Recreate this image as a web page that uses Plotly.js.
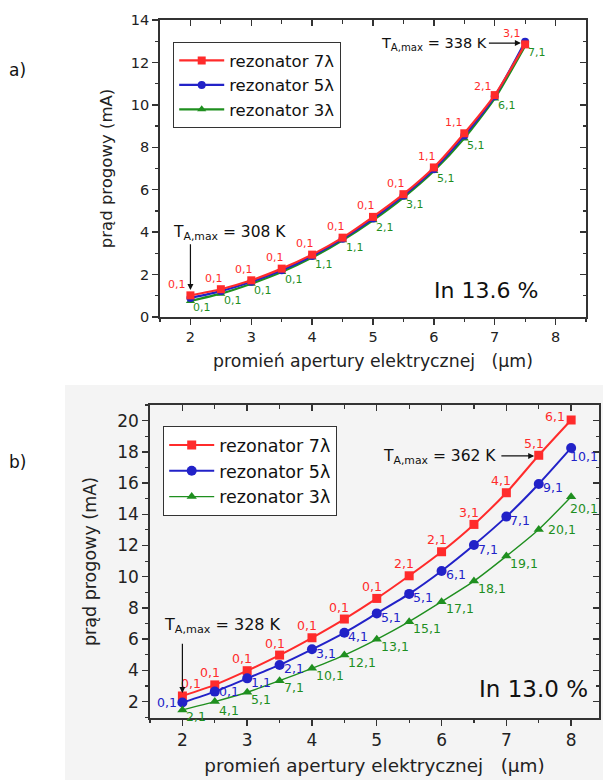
<!DOCTYPE html>
<html><head><meta charset="utf-8">
<script src="https://cdn.plot.ly/plotly-3.0.1.min.js"></script>
<style>html,body{margin:0;padding:0;background:#fff}#chart{width:603px;height:780px}</style>
</head><body><div id="chart"></div>
<script>
// ---------- data: a) In 13.6 % ----------
const radiusA = [2, 2.5, 3, 3.5, 4, 4.5, 5, 5.5, 6, 6.5, 7, 7.5];
const threshA7 = [1.02, 1.31, 1.73, 2.28, 2.94, 3.74, 4.72, 5.79, 7.05, 8.66, 10.46, 12.85];
const threshA5 = [0.90, 1.22, 1.66, 2.20, 2.88, 3.69, 4.64, 5.72, 6.97, 8.55, 10.40, 12.97];
const threshA3 = [0.76, 1.10, 1.57, 2.12, 2.80, 3.62, 4.56, 5.63, 6.88, 8.42, 10.30, 12.78];
const labelsA7 = ['0,1','0,1','0,1','0,1','0,1','0,1','0,1','0,1','1,1','1,1','2,1','3,1'];
const labelsA3 = ['0,1','0,1','0,1','0,1','1,1','1,1','2,1','3,1','5,1','5,1','6,1','7,1'];
const tempA = ['T<sub>A,max</sub> = 308 K', 'T<sub>A,max</sub> = 338 K'];
const indiumA = 'In 13.6 %';

// ---------- data: b) In 13.0 % ----------
const radiusB = [2, 2.5, 3, 3.5, 4, 4.5, 5, 5.5, 6, 6.5, 7, 7.5, 8];
const threshB7 = [2.36, 3.07, 3.98, 4.98, 6.09, 7.29, 8.61, 10.06, 11.60, 13.35, 15.38, 17.78, 20.04];
const threshB5 = [1.94, 2.64, 3.49, 4.35, 5.35, 6.41, 7.65, 8.90, 10.37, 12.03, 13.85, 15.94, 18.25];
const threshB3 = [1.47, 2.00, 2.60, 3.34, 4.13, 4.98, 5.99, 7.12, 8.40, 9.72, 11.32, 13.03, 15.12];
const labelsB7 = ['0,1','0,1','0,1','0,1','0,1','0,1','0,1','2,1','2,1','3,1','4,1','5,1','6,1'];
const labelsB5 = ['0,1','0,1','1,1','2,1','3,1','4,1','5,1','5,1','6,1','7,1','7,1','9,1','10,1'];
const labelsB3 = ['2,1','4,1','5,1','7,1','10,1','12,1','13,1','15,1','17,1','18,1','19,1','20,1','20,1'];
const tempB = ['T<sub>A,max</sub> = 328 K', 'T<sub>A,max</sub> = 362 K'];
const indiumB = 'In 13.0 %';

const seriesNames = ['rezonator 7\u03bb', 'rezonator 5\u03bb', 'rezonator 3\u03bb'];
const xTitle = 'promie\u0144 apertury elektrycznej\u00a0\u00a0\u00a0(\u03bcm)';
const yTitle = 'pr\u0105d progowy (mA)';

// ---------- styles ----------
const RED = '#ff2b2b', BLUE = '#2222c8', GREEN = '#1f8f1f';
const FONT = 'DejaVu Sans, Liberation Sans, Arial, sans-serif';
const W = 603, H = 780;
const px = v => v / W, py = v => 1 - v / H;

function tr(x, y, name, color, symbol, msize, lw, xa, ya, legend, rank) {
  return {
    x: x, y: y, name: name, type: 'scatter', mode: 'lines+markers',
    xaxis: xa, yaxis: ya, legend: legend, legendrank: rank,
    line: {color: color, width: lw, shape: 'spline', smoothing: 0.6},
    marker: {symbol: symbol, size: msize, color: color},
    hoverinfo: 'skip'
  };
}

const data = [
  tr(radiusA, threshA3, seriesNames[2], GREEN, 'triangle-up', 8, 2.2, 'x', 'y', 'legend', 3),
  tr(radiusA, threshA5, seriesNames[1], BLUE, 'circle', 8, 2.2, 'x', 'y', 'legend', 2),
  tr(radiusA, threshA7, seriesNames[0], RED, 'square', 8, 2.2, 'x', 'y', 'legend', 1),
  tr(radiusB, threshB7, seriesNames[0], RED, 'square', 9, 2, 'x2', 'y2', 'legend2', 1),
  tr(radiusB, threshB5, seriesNames[1], BLUE, 'circle', 10, 2, 'x2', 'y2', 'legend2', 2),
  tr(radiusB, threshB3, seriesNames[2], GREEN, 'triangle-up', 9, 1.4, 'x2', 'y2', 'legend2', 3),
  {x: [], y: [], xaxis: 'x3', yaxis: 'y3', type: 'scatter', showlegend: false, hoverinfo: 'skip'},
  {x: [], y: [], xaxis: 'x4', yaxis: 'y4', type: 'scatter', showlegend: false, hoverinfo: 'skip'}
];

function labels(xs, ys, texts, color, xr, yr, size, xanchor, xshift, yshift, overrides) {
  return texts.map((t, i) => Object.assign({
    x: xs[i], y: ys[i], xref: xr, yref: yr, text: t, showarrow: false,
    font: {family: FONT, size: size, color: color},
    xanchor: xanchor, yanchor: 'middle', xshift: xshift, yshift: yshift
  }, (overrides && overrides[i]) || {}));
}

const txt = (x, y, xr, yr, text, size, xanchor) => ({
  x: x, y: y, xref: xr, yref: yr, text: text, showarrow: false,
  font: {family: FONT, size: size, color: '#111'}, xanchor: xanchor || 'left', yanchor: 'middle'
});
const arrow = (x, y, ax, ay, xr, yr) => ({
  x: x, y: y, ax: ax, ay: ay, xref: xr, yref: yr, axref: xr, ayref: yr,
  text: '', showarrow: true, arrowhead: 2, arrowsize: 1, arrowwidth: 1.2, arrowcolor: '#111'
});

const annotations = [].concat(
  labels(radiusA, threshA7, labelsA7, RED, 'x', 'y', 11, 'center', -7, 11,
         {0: {xshift: -13}, 9: {xshift: -10}, 10: {xshift: -12, yshift: 9}, 11: {xshift: -13, yshift: 11}}),
  labels(radiusA, threshA3, labelsA3, GREEN, 'x', 'y', 11, 'left', 1, -7),
  labels(radiusB, threshB7, labelsB7, RED, 'x2', 'y2', 12.5, 'center', -5, 12,
         {0: {xshift: 9}, 12: {xanchor: 'right', xshift: -4, yshift: 3}}),
  labels(radiusB, threshB5, labelsB5, BLUE, 'x2', 'y2', 12.5, 'left', 2, -4,
         {0: {xanchor: 'right', xshift: -3, yshift: 0}, 1: {yshift: 0}, 12: {xshift: -3, yshift: -9}}),
  labels(radiusB, threshB3, labelsB3, GREEN, 'x2', 'y2', 12.5, 'left', 2, -7,
         {1: {yshift: -9}, 11: {xshift: 7, yshift: 0}, 12: {xshift: -3, yshift: -12}}),
  [
    txt(1.68, 3.95, 'x', 'y', tempA[0], 15.5),
    arrow(2, 1.27, 2, 3.5, 'x', 'y'),
    txt(5.1, 12.85, 'x', 'y', tempA[1], 14.5),
    arrow(7.43, 12.91, 6.88, 12.91, 'x', 'y'),
    txt(6.86, 1.23, 'x', 'y', indiumA, 22, 'center'),
    txt(1.68, 6.85, 'x2', 'y2', tempB[0], 16),
    arrow(2, 2.55, 2, 5.8, 'x2', 'y2'),
    txt(5.07, 17.65, 'x2', 'y2', tempB[1], 15.5),
    arrow(7.43, 17.74, 6.9, 17.74, 'x2', 'y2'),
    txt(7.42, 2.78, 'x2', 'y2', indiumB, 23, 'center'),
    {x: px(7), y: py(70), xref: 'paper', yref: 'paper', text: 'a)', showarrow: false,
     font: {family: FONT, size: 17, color: '#111'}, xanchor: 'left', yanchor: 'middle'},
    {x: px(7), y: py(462), xref: 'paper', yref: 'paper', text: 'b)', showarrow: false,
     font: {family: FONT, size: 17, color: '#111'}, xanchor: 'left', yanchor: 'middle'}
  ]
);

const AX = '#333';
function mainAxis(domain, anchor, range, dtick, minorD, tsize, title, tfont, standoff) {
  return {
    domain: domain, anchor: anchor, range: range, dtick: dtick, tick0: 0,
    ticks: 'outside', ticklen: 6, tickwidth: 1.4, tickcolor: AX,
    minor: {dtick: minorD, ticks: 'outside', ticklen: 3.5, tickwidth: 1.2, tickcolor: AX, showgrid: false},
    showline: true, linewidth: 1.8, linecolor: AX, mirror: true,
    showgrid: false, zeroline: false,
    tickfont: {family: FONT, size: tsize, color: '#222'},
    title: {text: title, font: {family: FONT, size: tfont, color: '#222'}, standoff: standoff}
  };
}
function mirrorAxis(over, anchor, side, range, dtick, minorD) {
  return {
    overlaying: over, anchor: anchor, side: side, range: range, dtick: dtick, tick0: 0,
    ticks: 'inside', ticklen: 6, tickwidth: 1.4, tickcolor: AX,
    minor: {dtick: minorD, ticks: 'inside', ticklen: 3.5, tickwidth: 1.2, tickcolor: AX, showgrid: false},
    showline: false, showgrid: false, zeroline: false, showticklabels: false
  };
}

const xA = [1.5, 8.5], yA = [0, 14], xB = [1.5, 8.43], yB = [0.95, 21];
const layout = {
  width: W, height: H, margin: {l: 0, r: 0, t: 0, b: 0},
  paper_bgcolor: '#ffffff', plot_bgcolor: 'rgba(0,0,0,0)',
  font: {family: FONT},
  xaxis: mainAxis([px(160), px(586)], 'y', xA, 1, 0.5, 14.5, xTitle, 17.3, 11),
  yaxis: mainAxis([py(317), py(20)], 'x', yA, 2, 1, 14.5, yTitle, 16.5, 14),
  xaxis2: mainAxis([px(150), px(599)], 'y2', xB, 1, 0.5, 17, xTitle, 18.4, 10),
  yaxis2: mainAxis([py(718), py(405)], 'x2', yB, 2, 1, 17, yTitle, 17.5, 16),
  xaxis3: mirrorAxis('x', 'y3', 'top', xA, 1, 0.5),
  yaxis3: mirrorAxis('y', 'x3', 'right', yA, 2, 1),
  xaxis4: mirrorAxis('x2', 'y4', 'top', xB, 1, 0.5),
  yaxis4: mirrorAxis('y2', 'x4', 'right', yB, 2, 1),
  legend: {x: px(173), y: py(42), xanchor: 'left', yanchor: 'top', bgcolor: '#ffffff',
           bordercolor: '#333', borderwidth: 1.2, itemwidth: 45, tracegroupgap: 0,
           font: {family: FONT, size: 16.5, color: '#111'}},
  legend2: {x: px(163), y: py(426), xanchor: 'left', yanchor: 'top', bgcolor: '#ffffff',
            bordercolor: '#333', borderwidth: 1.2, itemwidth: 45, tracegroupgap: 0,
            font: {family: FONT, size: 17.5, color: '#111'}},
  shapes: [{type: 'rect', xref: 'paper', yref: 'paper', x0: px(65), x1: 1, y0: 0, y1: py(385),
            fillcolor: '#f4f4f4', line: {width: 0}, layer: 'below'}],
  annotations: annotations,
  showlegend: true
};

Plotly.newPlot('chart', data, layout, {displayModeBar: false, staticPlot: true});
</script></body></html>
